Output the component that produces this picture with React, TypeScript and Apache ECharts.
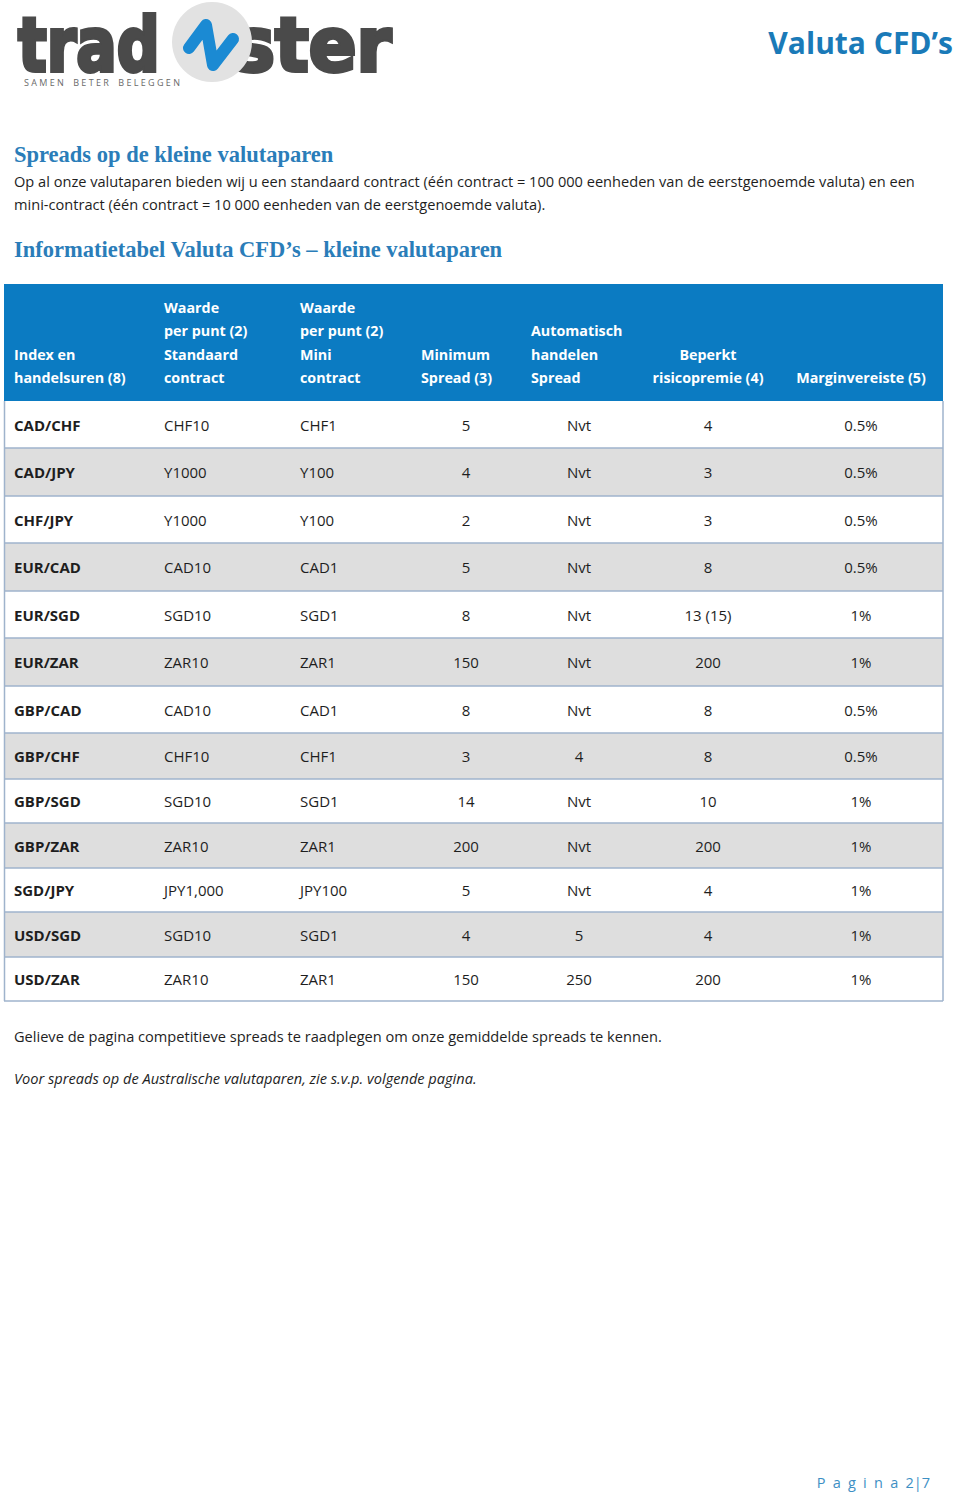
import React, { useEffect, useRef } from "react";
import * as echarts from "echarts";

// ---------- data ----------
const pairs = ["CAD/CHF", "CAD/JPY", "CHF/JPY", "EUR/CAD", "EUR/SGD", "EUR/ZAR", "GBP/CAD", "GBP/CHF", "GBP/SGD", "GBP/ZAR", "SGD/JPY", "USD/SGD", "USD/ZAR"];
const standaard = ["CHF10", "Y1000", "Y1000", "CAD10", "SGD10", "ZAR10", "CAD10", "CHF10", "SGD10", "ZAR10", "JPY1,000", "SGD10", "ZAR10"];
const mini = ["CHF1", "Y100", "Y100", "CAD1", "SGD1", "ZAR1", "CAD1", "CHF1", "SGD1", "ZAR1", "JPY100", "SGD1", "ZAR1"];
const minSpread = ["5", "4", "2", "5", "8", "150", "8", "3", "14", "200", "5", "4", "150"];
const autoSpread = ["Nvt", "Nvt", "Nvt", "Nvt", "Nvt", "Nvt", "Nvt", "4", "Nvt", "Nvt", "Nvt", "5", "250"];
const risicopremie = ["4", "3", "3", "8", "13 (15)", "200", "8", "8", "10", "200", "4", "4", "200"];
const marginvereiste = ["0.5%", "0.5%", "0.5%", "0.5%", "1%", "1%", "0.5%", "0.5%", "1%", "1%", "1%", "1%", "1%"];

const headerLabels = [
  ["Index en", "handelsuren (8)"],
  ["Waarde", "per punt (2)", "Standaard", "contract"],
  ["Waarde", "per punt (2)", "Mini", "contract"],
  ["Minimum", "Spread (3)"],
  ["Automatisch", "handelen", "Spread"],
  ["Beperkt", "risicopremie (4)"],
  ["Marginvereiste (5)"],
];

const pageTitle = "Valuta CFD\u2019s";
const heading1 = "Spreads op de kleine valutaparen";
const intro1 = "Op al onze valutaparen bieden wij u een standaard contract (\u00e9\u00e9n contract = 100 000 eenheden van de eerstgenoemde valuta) en een";
const intro2 = "mini-contract (\u00e9\u00e9n contract = 10 000 eenheden van de eerstgenoemde valuta).";
const heading2 = "Informatietabel Valuta CFD\u2019s \u2013 kleine valutaparen";
const note1 = "Gelieve de pagina competitieve spreads te raadplegen om onze gemiddelde spreads te kennen.";
const note2 = "Voor spreads op de Australische valutaparen, zie s.v.p. volgende pagina.";
const pageLabel = "P\u2002a\u2002g\u2002i\u2002n\u2002a\u20022|7";
const tagline = "S A M E N    B E T E R    B E L E G G E N";

// ---------- layout ----------
const SANS = '"Open Sans", "Noto Sans", sans-serif';
const SERIF = '"Liberation Serif", "DejaVu Serif", serif';
const BLUE = "#0b7bc2";
const HEAD_BLUE = "#2a7db9";
const TEXT = "#1e1e1e";
const TABLE_L = 4;
const TABLE_R = 943;
const HEADER_TOP = 284;
const ROW_EDGES = [401, 448, 496, 543, 591, 638, 686, 733, 779, 823, 868, 912, 957, 1001];
const COL_X = [14, 164, 300, 466, 579, 708, 861];
const COL_ALIGN = ["left", "left", "left", "center", "center", "center", "center"];
const HEAD_X = [14, 164, 300, 421, 531, 708, 861];
const HEAD_ALIGN = ["left", "left", "left", "left", "left", "center", "center"];
const HEAD_LINE_Y = [307, 330.5, 354, 377.5];

function txt(x: number, y: number, text: string, o: any = {}) {
  const align = o.align || "left";
  return {
    type: "text",
    x,
    y,
    z: o.z || 10,
    style: {
      text,
      fill: o.fill || TEXT,
      fontSize: o.size || 15,
      fontFamily: o.family || SANS,
      fontWeight: o.weight || "normal",
      fontStyle: o.style || "normal",
      align,
      textAlign: align,
      verticalAlign: "middle",
      textVerticalAlign: "middle",
    },
  };
}

function logoWord(text: string, x: number, scaleX: number) {
  return {
    type: "group",
    x,
    y: 0,
    scaleX,
    z: 2,
    children: [
      {
        type: "text",
        x: 0,
        y: 45,
        style: {
          text,
          fill: "#4a4a4a",
          stroke: "#4a4a4a",
          lineWidth: 4,
          lineJoin: "round",
          fontSize: 75,
          fontWeight: "bold",
          fontFamily: '"DejaVu Sans", sans-serif',
          align: "left",
          textAlign: "left",
          verticalAlign: "middle",
          textVerticalAlign: "middle",
        },
      },
    ],
  };
}

function buildGraphic() {
  const els: any[] = [];

  // logo
  els.push({ type: "circle", shape: { cx: 212, cy: 42, r: 40 }, style: { fill: "#e2e2e2" }, z: 1 });
  els.push(logoWord("trad", 18, 0.8));
  els.push(logoWord("ster", 233, 0.94));
  els.push({
    type: "polyline",
    z: 3,
    shape: { points: [[189, 48], [206, 25], [213, 65], [233, 39]] },
    style: { stroke: "#1b8ad3", lineWidth: 12, lineCap: "round", lineJoin: "round", fill: null },
  });
  els.push(txt(24, 82, tagline, { size: 9, fill: "#6a6a6a" }));

  // page title
  els.push(txt(953, 42, pageTitle, { size: 30, weight: "bold", fill: "#1a7ab8", align: "right" }));

  // headings and intro
  els.push(txt(14, 154, heading1, { size: 22.5, weight: "bold", family: SERIF, fill: HEAD_BLUE }));
  els.push(txt(14, 181, intro1, { size: 14.6 }));
  els.push(txt(14, 204, intro2, { size: 14.6 }));
  els.push(txt(14, 249, heading2, { size: 22.5, weight: "bold", family: SERIF, fill: HEAD_BLUE }));

  // table header
  els.push({ type: "rect", z: 1, shape: { x: TABLE_L, y: HEADER_TOP, width: TABLE_R - TABLE_L, height: ROW_EDGES[0] - HEADER_TOP }, style: { fill: BLUE } });
  headerLabels.forEach((lines, c) => {
    const start = HEAD_LINE_Y.length - lines.length;
    lines.forEach((line, k) => {
      els.push(txt(HEAD_X[c], HEAD_LINE_Y[start + k], line, { size: 14.3, weight: "bold", fill: "#ffffff", align: HEAD_ALIGN[c] }));
    });
  });

  // table body
  const columns = [pairs, standaard, mini, minSpread, autoSpread, risicopremie, marginvereiste];
  pairs.forEach((_, r) => {
    const y0 = ROW_EDGES[r];
    const y1 = ROW_EDGES[r + 1];
    els.push({ type: "rect", z: 1, shape: { x: TABLE_L, y: y0, width: TABLE_R - TABLE_L, height: y1 - y0 }, style: { fill: r % 2 === 1 ? "#dedede" : "#ffffff" } });
    const cy = (y0 + y1) / 2;
    columns.forEach((col, c) => {
      els.push(txt(COL_X[c], cy, col[r], { size: 15, weight: c === 0 ? "bold" : "normal", align: COL_ALIGN[c] }));
    });
  });
  ROW_EDGES.forEach((y, i) => {
    if (i === 0) return;
    els.push({ type: "line", z: 5, shape: { x1: TABLE_L, y1: y, x2: TABLE_R, y2: y }, style: { stroke: "#9fb3cc", lineWidth: 1.5 } });
  });
  els.push({ type: "line", z: 5, shape: { x1: TABLE_L + 0.5, y1: ROW_EDGES[0], x2: TABLE_L + 0.5, y2: ROW_EDGES[ROW_EDGES.length - 1] }, style: { stroke: "#9fb3cc", lineWidth: 1.5 } });
  els.push({ type: "line", z: 5, shape: { x1: TABLE_R, y1: ROW_EDGES[0], x2: TABLE_R, y2: ROW_EDGES[ROW_EDGES.length - 1] }, style: { stroke: "#9fb3cc", lineWidth: 1.5 } });

  // notes
  els.push(txt(14, 1036, note1, { size: 14.6 }));
  els.push(txt(14, 1078, note2, { size: 14.6, style: "italic" }));

  // page number
  els.push(txt(930, 1482, pageLabel, { size: 14.5, fill: "#3d8fc4", align: "right" }));

  return els;
}

export default function App() {
  const ref = useRef<HTMLDivElement>(null);
  useEffect(() => {
    document.body.style.margin = "0";
    const chart = echarts.init(ref.current!, null, { renderer: "svg" });
    chart.setOption({
      animation: false,
      backgroundColor: "#ffffff",
      graphic: { elements: buildGraphic() },
    });
    return () => chart.dispose();
  }, []);
  return <div ref={ref} style={{ width: 960, height: 1494 }} />;
}
